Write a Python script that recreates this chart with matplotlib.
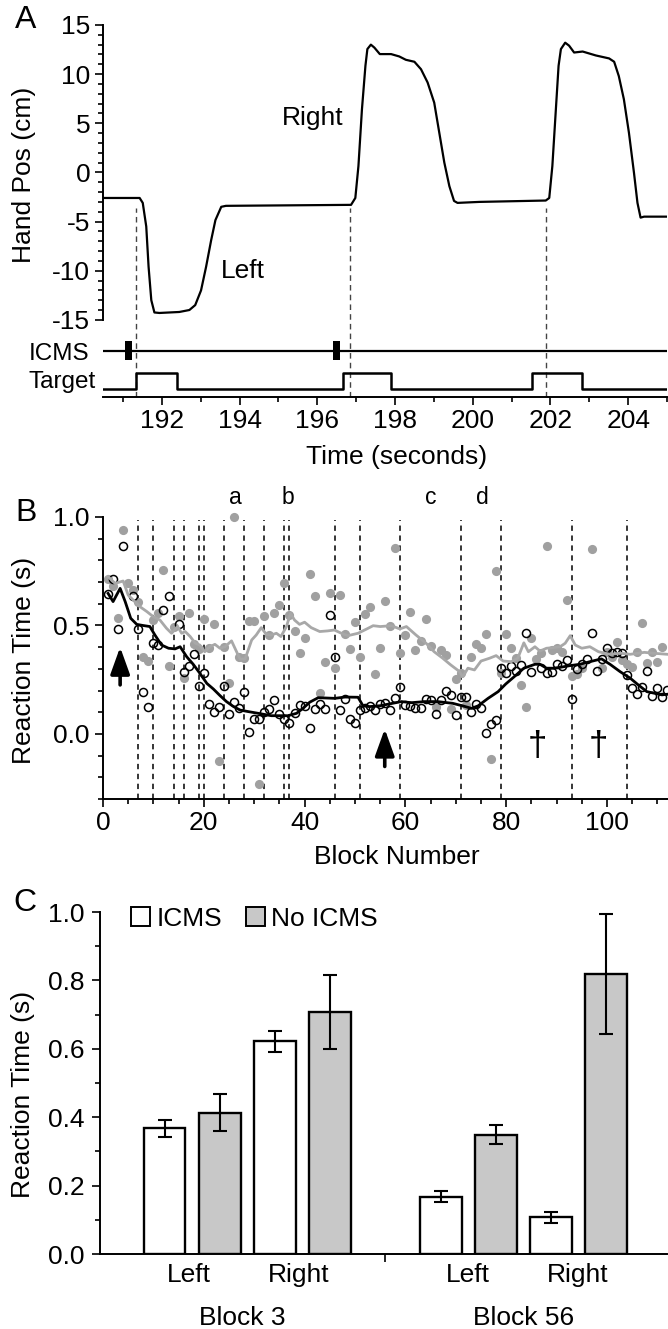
import numpy as np
import matplotlib
matplotlib.use('Agg')
import matplotlib.pyplot as plt
from matplotlib.patches import Patch
from matplotlib.ticker import FormatStrFormatter

plt.rcParams['font.family'] = ['Liberation Sans', 'DejaVu Sans']
plt.rcParams['axes.unicode_minus'] = False

# ---------------- Panel A: hand position trace ----------------
hand_t = [190.5, 191.43, 191.51, 191.6, 191.66, 191.73, 191.81, 191.94, 192.45, 192.71,
          192.86, 193.01, 193.14, 193.27, 193.38, 193.53, 193.65, 196.87, 196.98, 197.06,
          197.15, 197.24, 197.29, 197.38, 197.47, 197.61, 197.9, 198.11, 198.28, 198.5,
          198.67, 198.84, 199.01, 199.14, 199.27, 199.4, 199.52, 199.61, 200.17, 201.88,
          201.97, 202.05, 202.14, 202.21, 202.27, 202.38, 202.48, 202.61, 202.83, 203.17,
          203.51, 203.64, 203.76, 203.89, 204.02, 204.15, 204.24, 204.32, 204.41, 205.0]
hand_pos = [-2.6, -2.6, -3.1, -5.5, -9.6, -13.0, -14.25, -14.3, -14.2, -14.0,
            -13.5, -12.0, -9.6, -6.9, -4.85, -3.5, -3.4, -3.3, -2.6, 0.65,
            6.4, 10.85, 12.55, 13.0, 12.7, 12.04, 12.04, 11.8, 11.46, 11.26,
            10.5, 9.15, 7.1, 4.05, 1.0, -1.4, -2.9, -3.1, -3.0, -2.86,
            -2.6, 0.65, 6.4, 10.85, 12.55, 13.2, 12.9, 12.2, 12.3, 11.9,
            11.6, 11.26, 9.8, 7.45, 4.05, -0.03, -3.1, -4.6, -4.5, -4.5]
cue_t = [191.34, 196.84, 201.89]
icms_pulse_t = [191.15, 196.49]
target_on = [191.34, 196.66, 201.53]
target_off = [192.38, 197.9, 202.82]

# ---------------- Panel B: reaction time per block ----------------
icms_block = [1, 2, 3, 4, 6, 7, 8, 9, 10, 11, 12, 13, 15, 16, 17, 18, 19, 20, 21, 22,
              23, 24, 25, 26, 27, 28, 29, 30, 31, 32, 33, 34, 35, 36, 37, 38, 39, 40, 41, 42,
              43, 44, 45, 46, 47, 48, 49, 50, 51, 52, 53, 54, 55, 56, 57, 58, 59, 60, 61, 62,
              63, 64, 65, 66, 67, 68, 69, 70, 71, 72, 73, 74, 75, 76, 77, 78, 79, 80, 81, 82,
              83, 84, 85, 87, 88, 89, 90, 91, 92, 93, 94, 95, 96, 97, 98, 99, 100, 101, 102, 103,
              104, 105, 106, 107, 108, 109, 110, 111, 112]
icms_rt = [0.644, 0.714, 0.484, 0.868, 0.637, 0.484, 0.192, 0.126, 0.418, 0.41, 0.571, 0.636, 0.507, 0.284, 0.313, 0.369, 0.223, 0.28, 0.137, 0.103,
           0.126, 0.223, 0.09, 0.149, 0.12, 0.191, 0.011, 0.068, 0.067, 0.1, 0.115, 0.157, 0.092, 0.069, 0.051, 0.097, 0.134, 0.13, 0.028, 0.114,
           0.136, 0.115, 0.55, 0.356, 0.108, 0.16, 0.07, 0.05, 0.111, 0.118, 0.13, 0.111, 0.14, 0.141, 0.11, 0.164, 0.217, 0.134, 0.128, 0.118,
           0.118, 0.162, 0.155, 0.093, 0.157, 0.197, 0.178, 0.088, 0.169, 0.169, 0.103, 0.137, 0.118, 0.003, 0.045, 0.065, 0.306, 0.28, 0.313, 0.29,
           0.316, 0.464, 0.287, 0.306, 0.28, 0.287, 0.321, 0.313, 0.341, 0.16, 0.3, 0.321, 0.344, 0.467, 0.292, 0.346, 0.398, 0.372, 0.379, 0.375,
           0.272, 0.21, 0.183, 0.215, 0.292, 0.177, 0.21, 0.169, 0.203]
noicms_block = [1, 2, 3, 4, 5, 6, 7, 8, 9, 10, 11, 12, 13, 14, 15, 16, 17, 18, 19, 20,
                21, 22, 23, 24, 25, 26, 27, 28, 29, 30, 31, 32, 33, 34, 35, 36, 37, 38, 39, 40,
                41, 42, 43, 44, 45, 46, 47, 48, 49, 50, 51, 52, 53, 54, 55, 56, 57, 58, 59, 60,
                61, 62, 63, 64, 65, 66, 67, 68, 69, 70, 71, 72, 73, 74, 75, 76, 77, 78, 79, 80,
                81, 82, 83, 84, 85, 86, 87, 88, 89, 90, 91, 92, 93, 94, 95, 97, 99, 100, 101, 102,
                103, 104, 105, 106, 107, 108, 109, 110, 111]
noicms_rt = [0.714, 0.68, 0.536, 0.94, 0.694, 0.664, 0.61, 0.353, 0.336, 0.525, 0.556, 0.754, 0.315, 0.495, 0.545, 0.257, 0.556, 0.413, 0.39, 0.53,
             0.395, 0.507, -0.123, 0.402, 0.233, 1.0, 0.356, 0.352, 0.522, 0.522, -0.232, 0.545, 0.455, 0.558, 0.594, 0.697, 0.55, 0.473, 0.375, 0.444,
             0.737, 0.635, 0.187, 0.333, 0.651, 0.303, 0.64, 0.462, 0.392, 0.515, 0.356, 0.552, 0.584, 0.276, 0.396, 0.613, 0.498, 0.859, 0.372, 0.458,
             0.564, 0.387, 0.43, 0.53, 0.407, 0.126, 0.388, 0.362, 0.116, 0.252, 0.28, 0.134, 0.356, 0.413, 0.395, 0.459, -0.115, 0.751, 0.283, 0.459,
             0.395, 0.349, 0.224, 0.126, 0.444, 0.346, 0.372, 0.866, 0.387, 0.395, 0.379, 0.617, 0.269, 0.276, 0.303, 0.851, 0.303, 0.379, 0.356, 0.422,
             0.341, 0.321, 0.31, 0.379, 0.51, 0.326, 0.379, 0.333, 0.402]
icms_avg_block = [1, 2, 3.4, 4.4, 5.5, 6.7, 7.9, 9.3, 10.3, 11.6, 13.0, 14.3, 15.3, 16.6, 17.9, 19.2, 20.6, 21.9, 23.2, 24.5,
                  25.9, 27.2, 28.8, 30.8, 33.4, 36.7, 38.4, 39.7, 41.0, 42.7, 46.0, 48.0, 50.6, 51.6, 52.9, 55.0, 57.2, 59.2, 61.2, 63.8,
                  66.4, 69.4, 71.4, 73.1, 74.4, 76.4, 78.4, 79.9, 81.6, 83.5, 85.7, 86.7, 88.0, 89.4, 90.7, 92.7, 94.6, 96.6, 98.9, 100.6,
                  102.6, 104.6, 106.2, 107.9, 109.5, 110.9, 112.0]
icms_avg = [0.648, 0.61, 0.671, 0.61, 0.533, 0.505, 0.5, 0.495, 0.456, 0.41, 0.395, 0.392, 0.402, 0.356, 0.321, 0.28, 0.233, 0.207, 0.177, 0.149,
            0.126, 0.11, 0.103, 0.095, 0.084, 0.084, 0.095, 0.118, 0.146, 0.167, 0.164, 0.17, 0.169, 0.129, 0.126, 0.13, 0.14, 0.149, 0.144, 0.149,
            0.149, 0.141, 0.129, 0.118, 0.129, 0.164, 0.195, 0.23, 0.264, 0.303, 0.321, 0.321, 0.303, 0.303, 0.307, 0.315, 0.321, 0.333, 0.346, 0.321,
            0.287, 0.257, 0.226, 0.195, 0.187, 0.18, 0.183]
noicms_avg_block = [1, 2.4, 4.0, 5.0, 6.0, 7.3, 8.7, 10.0, 11.3, 12.6, 13.6, 14.8, 15.6, 16.3, 17.3, 18.3, 19.2, 20.2, 21.2, 22.2,
                    23.2, 24.2, 25.5, 26.5, 27.2, 28.2, 29.5, 30.4, 31.4, 32.4, 33.4, 34.4, 35.3, 36.4, 37.2, 38.0, 39.0, 40.0, 41.3, 43.0,
                    44.6, 45.9, 47.3, 48.6, 50.6, 52.6, 53.6, 55.0, 57.2, 58.9, 60.2, 62.1, 64.1, 65.7, 67.4, 69.0, 70.6, 71.4, 72.4, 73.7,
                    75.0, 76.7, 78.0, 79.4, 81.0, 82.3, 83.5, 84.4, 85.7, 86.7, 88.0, 89.4, 90.7, 91.7, 92.7, 93.7, 95.0, 96.6, 98.3, 100.6,
                    102.6, 104.6, 107.4, 109.2, 112.0]
noicms_avg = [0.725, 0.694, 0.705, 0.64, 0.617, 0.587, 0.564, 0.54, 0.525, 0.487, 0.464, 0.495, 0.464, 0.472, 0.449, 0.418, 0.41, 0.379, 0.402, 0.413,
              0.395, 0.402, 0.429, 0.379, 0.345, 0.346, 0.433, 0.456, 0.49, 0.459, 0.456, 0.464, 0.449, 0.495, 0.556, 0.525, 0.505, 0.515, 0.49, 0.472,
              0.475, 0.479, 0.464, 0.453, 0.464, 0.487, 0.499, 0.495, 0.499, 0.484, 0.495, 0.456, 0.418, 0.379, 0.349, 0.318, 0.29, 0.264, 0.303, 0.295,
              0.336, 0.349, 0.361, 0.336, 0.333, 0.349, 0.42, 0.379, 0.402, 0.382, 0.395, 0.398, 0.402, 0.418, 0.453, 0.41, 0.395, 0.402, 0.379, 0.367,
              0.372, 0.367, 0.376, 0.372, 0.367]
switch_blocks = [7, 10, 14, 16, 19, 20, 24, 28, 32, 36, 37, 46, 51, 59, 71, 79, 93, 104]
letter_blocks = [26.3, 36.6, 65.0, 75.3]
letters = ['a', 'b', 'c', 'd']
arrow_blocks = [3.4, 55.9]
arrow_tip = [0.40, 0.023]
arrow_tail = [0.226, -0.15]
dagger_blocks = [86.2, 98.3]

# ---------------- Panel C: mean reaction times ----------------
bar_x_icms = [1.18, 3.18, 6.18, 8.18]
bar_x_noicms = [2.18, 4.18, 7.18, 9.18]
icms_mean = [0.368, 0.622, 0.167, 0.108]
icms_err = [0.025, 0.031, 0.016, 0.016]
noicms_mean = [0.413, 0.708, 0.349, 0.818]
noicms_err = [0.054, 0.108, 0.028, 0.175]
dir_x = [1.62, 3.6, 6.68, 8.66]
dir_labels = ['Left', 'Right', 'Left', 'Right']
block_x = [2.58, 7.68]
block_labels = ['Block 3', 'Block 56']

W, H = 668, 1329
FS = 19


def fx(px):
    return px / W


def fy(py):
    return 1 - py / H


def style(ax):
    for s in ['top', 'right']:
        ax.spines[s].set_visible(False)
    for s in ['left', 'bottom']:
        ax.spines[s].set_linewidth(1.4)
    ax.tick_params(which='both', direction='out', width=1.2, labelsize=FS)
    ax.tick_params(which='major', length=5.5)
    ax.tick_params(which='minor', length=3.5)


fig = plt.figure(figsize=(W / 100, H / 100), dpi=100)

# ---------- A ----------
axA = fig.add_axes([fx(103.5), fy(396.7), fx(667) - fx(103.5), fy(25) - fy(396.7)])
style(axA)
axA.set_xlim(190.5, 205)
axA.set_ylim(-22.82, 15)
axA.spines['left'].set_bounds(-15, 15)
axA.set_yticks(range(-15, 16, 5))
axA.set_yticks(np.arange(-15, 16, 1), minor=True)
axA.set_xticks(range(192, 205, 2))
axA.set_xticks(range(191, 206, 1), minor=True)
axA.tick_params(axis='y', pad=4)
axA.tick_params(axis='x', pad=3)
axA.plot(hand_t, hand_pos, color='k', lw=1.6, solid_joinstyle='round')
axA.vlines(cue_t, -22.82, -3.6, colors='#444444', linestyles=(0, (4, 3)), lw=1.0)
axA.hlines(-18.13, 190.5, 205, colors='k', lw=1.6)
axA.bar(icms_pulse_t, 1.95, width=0.17, bottom=-19.1, color='k')
low, high = -22.04, -20.44
tx, ty = [190.5], [low]
for on, off in zip(target_on, target_off):
    tx += [on, on, off, off]
    ty += [low, high, high, low]
tx.append(205)
ty.append(low)
axA.plot(tx, ty, color='k', lw=1.8)
axA.text(195.1, 4.8, 'Right', fontsize=FS, ha='left', va='baseline')
axA.text(193.53, -10.75, 'Left', fontsize=FS, ha='left', va='baseline')
axA.text(190.13, -19.08, 'ICMS', fontsize=17.5, ha='right', va='baseline')
axA.text(190.29, -21.97, 'Target', fontsize=17.5, ha='right', va='baseline')
fig.text(fx(26), fy(20), 'A', fontsize=23, ha='center', va='center')
fig.text(fx(24), fy(175), 'Hand Pos (cm)', fontsize=FS, rotation=90, ha='center', va='center')
fig.text(fx(397), fy(457), 'Time (seconds)', fontsize=FS, ha='center', va='center')

# ---------- B ----------
axB = fig.add_axes([fx(103), fy(799), fx(668) - fx(103), fy(517) - fy(799)])
style(axB)
axB.set_xlim(0, 112.1)
axB.set_ylim(-0.3, 1.0)
axB.set_xticks(range(0, 101, 20))
axB.set_xticks(range(0, 113, 5), minor=True)
axB.set_yticks([0.0, 0.5, 1.0])
axB.set_yticks(np.arange(-0.3, 1.01, 0.1), minor=True)
axB.yaxis.set_major_formatter(FormatStrFormatter('%.1f'))
axB.tick_params(axis='y', pad=4)
axB.tick_params(axis='x', pad=3)
axB.vlines(switch_blocks, -0.3, 0.985, colors='k', linestyles=(0, (3.5, 3)), lw=1.1, zorder=1)
axB.plot(noicms_block, noicms_rt, 'o', color='#a0a0a0', ms=6.6, mec='none', zorder=2, clip_on=False)
axB.plot(icms_block, icms_rt, 'o', mfc='none', mec='k', ms=5.8, mew=1.1, zorder=3, clip_on=False)
axB.plot(noicms_avg_block, noicms_avg, color='#a8a8a8', lw=2.0, zorder=4)
axB.plot(icms_avg_block, icms_avg, color='k', lw=2.0, zorder=5)
for b, tip, tail in zip(arrow_blocks, arrow_tip, arrow_tail):
    axB.annotate('', xy=(b, tip), xytext=(b, tail),
                 arrowprops=dict(arrowstyle='-|>,head_width=0.45,head_length=1.25',
                                 mutation_scale=13, color='k', lw=2.6, shrinkA=0, shrinkB=0))
for b in dagger_blocks:
    axB.text(b, -0.06, '\u2020', fontsize=25, ha='center', va='center')
for b, s in zip(letter_blocks, letters):
    axB.text(b, 1.06, s, fontsize=16.5, ha='center', va='baseline')
fig.text(fx(26), fy(513), 'B', fontsize=23, ha='center', va='center')
fig.text(fx(24), fy(660), 'Reaction Time (s)', fontsize=FS, rotation=90, ha='center', va='center')
fig.text(fx(397), fy(857), 'Block Number', fontsize=FS, ha='center', va='center')

# ---------- C ----------
axC = fig.add_axes([fx(99.5), fy(1254), fx(667) - fx(99.5), fy(912) - fy(1254)])
style(axC)
axC.set_xlim(0, 10.28)
axC.set_ylim(0, 1.0)
axC.set_yticks(np.arange(0, 1.01, 0.2))
axC.set_yticks(np.arange(0, 1.01, 0.1), minor=True)
axC.yaxis.set_major_formatter(FormatStrFormatter('%.1f'))
axC.set_xticks([5.18])
axC.set_xticklabels([])
axC.tick_params(axis='y', pad=5.5)
ekw = dict(elinewidth=1.5, capthick=1.5, ecolor='k')
axC.bar(bar_x_icms, icms_mean, width=0.755, color='white', edgecolor='k', lw=1.7,
        yerr=icms_err, capsize=5, error_kw=ekw)
axC.bar(bar_x_noicms, noicms_mean, width=0.755, color='#c8c8c8', edgecolor='k', lw=1.7,
        yerr=noicms_err, capsize=5, error_kw=ekw)
for x, s in zip(dir_x, dir_labels):
    axC.text(x, -0.061, s, fontsize=FS, ha='center', va='center')
for x, s in zip(block_x, block_labels):
    axC.text(x, -0.187, s, fontsize=FS, ha='center', va='center')
handles = [Patch(facecolor='white', edgecolor='k', lw=1.4),
           Patch(facecolor='#c8c8c8', edgecolor='k', lw=1.4)]
axC.legend(handles, ['ICMS', 'No ICMS'], ncol=2, loc='upper left', bbox_to_anchor=(0.055, 1.015),
           frameon=False, fontsize=FS, handlelength=0.72, handleheight=0.72, handletextpad=0.25,
           columnspacing=0.9, borderpad=0, borderaxespad=0)
fig.text(fx(25), fy(903), 'C', fontsize=23, ha='center', va='center')
fig.text(fx(23), fy(1094), 'Reaction Time (s)', fontsize=FS, rotation=90, ha='center', va='center')

fig.savefig('out.png', dpi=100)
